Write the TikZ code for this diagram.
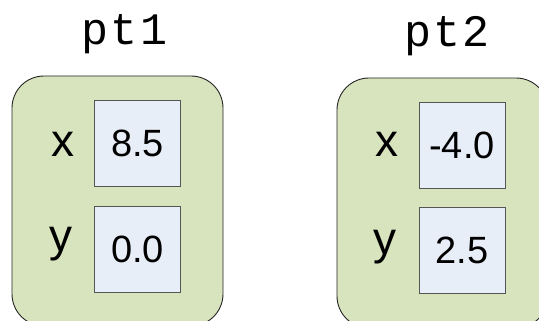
\documentclass[tikz,border=0pt]{standalone}
\usepackage{fontspec}
\setmainfont{Liberation Sans}
\newfontfamily\ptmono{Liberation Mono}[LetterSpace=5]
\usepackage{xcolor}
\usepackage{tikz}
\definecolor{objgreen}{HTML}{D7E4BD}
\definecolor{slotblue}{HTML}{E8EEF8}
\definecolor{slotline}{HTML}{555555}

\begin{document}
\begin{tikzpicture}[x=1pt, y=-1pt,
    object/.style={draw=black!85, fill=objgreen, line width=0.9pt, rounded corners=32pt, minimum width=211pt, minimum height=250pt, inner sep=0pt},
    slot/.style={draw=slotline, fill=slotblue, line width=0.9pt, minimum width=86pt, minimum height=86pt, inner sep=0pt, font=\fontsize{38}{44}\selectfont},
    fieldname/.style={anchor=base, inner sep=0pt, font=\fontsize{46}{54}\selectfont},
    objname/.style={anchor=base, inner sep=0pt, font=\ptmono\fontsize{45}{54}\selectfont}
]
\useasboundingbox (0,0) rectangle (539,321);
\clip (0,0) rectangle (539,321);

% Objects
\node[object] (obj1) at (117.5, 201) {};
\node[object] (obj2) at (442.5, 203) {};

% Names
\node[objname] (name1) at (124.5, 45) {pt1};
\node[objname] (name2) at (447, 47) {pt2};

% Fields of pt1
\node[slot] (x1) at (137.5, 143) {8.5};
\node[slot] (y1) at (137.5, 249) {0.0};
\node[fieldname] (xlab1) at (63, 157) {x};
\node[fieldname] (ylab1) at (61, 251) {y};

% Fields of pt2
\node[slot] (x2) at (462, 145) {-4.0};
\node[slot] (y2) at (462, 250) {2.5};
\node[fieldname] (xlab2) at (387, 157) {x};
\node[fieldname] (ylab2) at (385, 254) {y};

\end{tikzpicture}
\end{document}
